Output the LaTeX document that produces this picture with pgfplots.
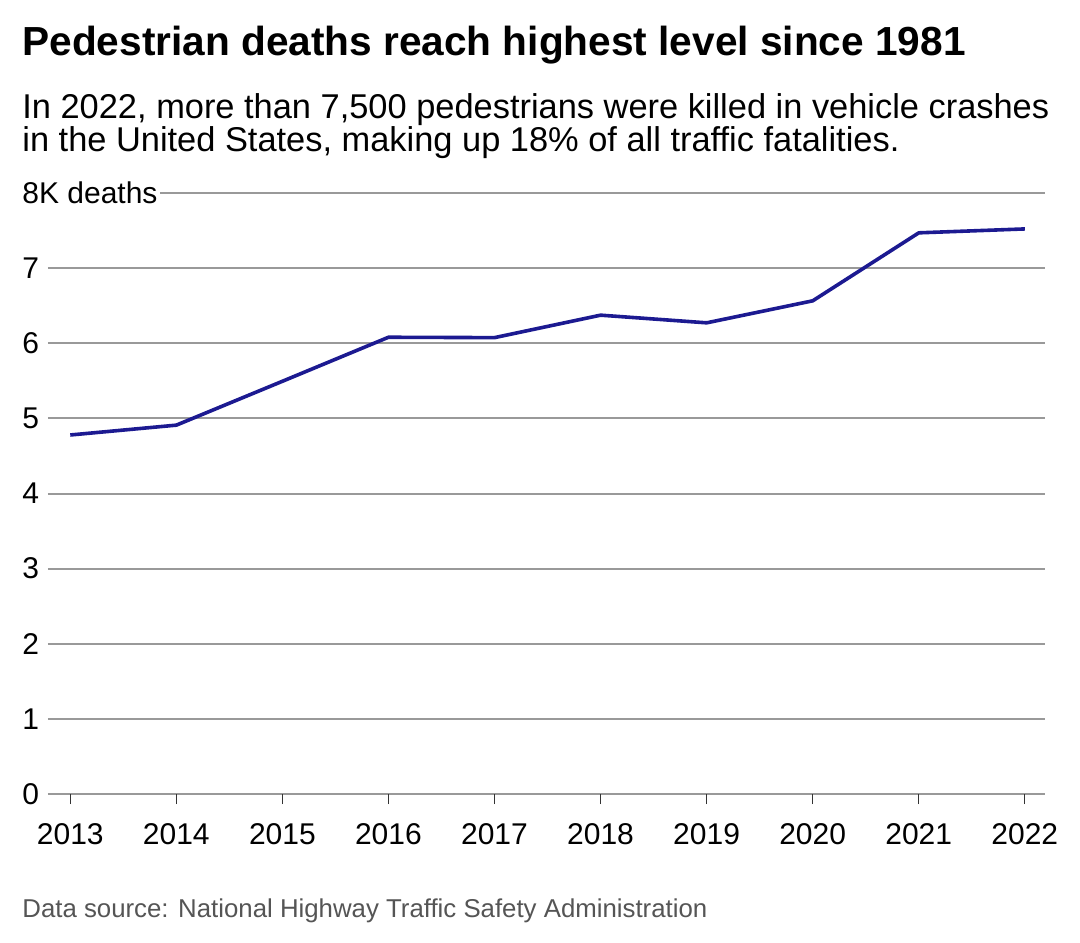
\documentclass[border=0pt]{standalone}
\usepackage{pgfplots}
\pgfplotsset{compat=1.18}
\usepackage{fontspec}
\setmainfont{Liberation Sans}
\definecolor{linecol}{RGB}{28,26,145}
\definecolor{gridcol}{RGB}{153,153,153}
\definecolor{srccol}{RGB}{85,85,85}
\begin{document}
\begin{tikzpicture}[x=1pt,y=1pt]
% page: 1px = 0.5pt, 1080x942 px
\path[fill=white] (0,0) rectangle (540,471);
\node[anchor=base west, inner sep=0, font=\bfseries\fontsize{20.3}{24}\selectfont] at (11,443) {Pedestrian deaths reach highest level since 1981};
\node[anchor=base west, inner sep=0, font=\fontsize{17.2}{20}\selectfont] at (11,411.5) {In 2022, more than 7,500 pedestrians were killed in vehicle crashes};
\node[anchor=base west, inner sep=0, font=\fontsize{17.2}{20}\selectfont] at (11,395) {in the United States, making up 18\% of all traffic fatalities.};
\node[anchor=base west, inner sep=0, text=srccol, font=\fontsize{12.9}{15}\selectfont] at (11,12.5) {Data source: National Highway Traffic Safety Administration};
\begin{axis}[
    at={(24pt,74pt)}, anchor=south west,
    scale only axis,
    width=498.5pt, height=300.5pt,
    xmin=2012.79, xmax=2022.19,
    ymin=0, ymax=8,
    axis x line=bottom,
    axis y line=left,
    x axis line style={draw=none, -},
    y axis line style={draw=none, -},
    xtick={2013,...,2022},
    ytick={0,...,8},
    yticklabels={0,1,2,3,4,5,6,7,8K deaths},
    ymajorgrids=true,
    grid style={draw=gridcol, line width=1pt},
    tick align=outside,
    major tick length=5pt,
    xtick style={draw=black!80, line width=0.6pt},
    ytick style={draw=none},
    xticklabel style={/pgf/number format/1000 sep=, font=\fontsize{15}{17}\selectfont, yshift=-6pt},
    yticklabel style={anchor=west, xshift=-9pt, fill=white, inner xsep=1pt, font=\fontsize{15}{17}\selectfont},
    /pgf/number format/assume math mode=true,
    clip=false,
]
\addplot[color=linecol, line width=1.8pt, line join=round] coordinates {
    (2013, 4.779)
    (2014, 4.910)
    (2015, 5.494)
    (2016, 6.080)
    (2017, 6.075)
    (2018, 6.374)
    (2019, 6.272)
    (2020, 6.565)
    (2021, 7.470)
    (2022, 7.522)
};
\end{axis}
\end{tikzpicture}
\end{document}
